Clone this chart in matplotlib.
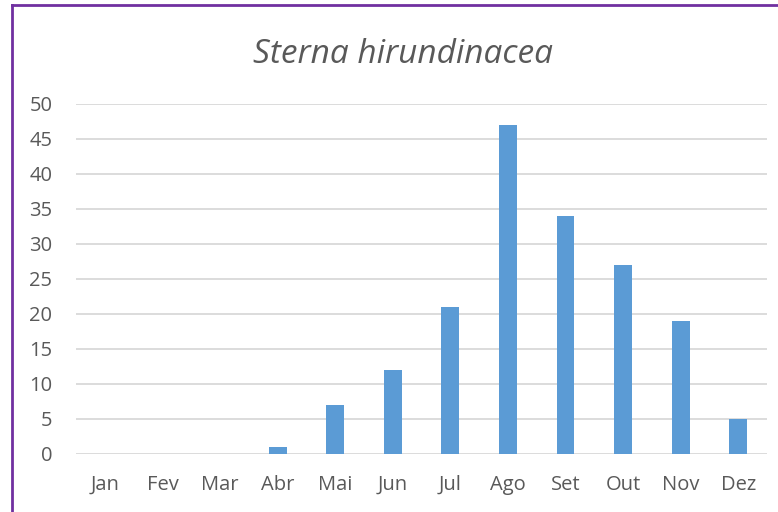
import matplotlib.pyplot as plt
from matplotlib.lines import Line2D

months = ['Jan', 'Fev', 'Mar', 'Abr', 'Mai', 'Jun', 'Jul', 'Ago', 'Set', 'Out', 'Nov', 'Dez']
counts = [0, 0, 0, 1, 7, 12, 21, 47, 34, 27, 19, 5]
y_ticks = [0, 5, 10, 15, 20, 25, 30, 35, 40, 45, 50]

plt.rcParams['font.family'] = ['Open Sans', 'DejaVu Sans']

fig = plt.figure(figsize=(7.78, 5.12), dpi=100)
ax = fig.add_axes([0.0977, 0.1133, 0.8883, 0.6837])

ax.bar(range(len(months)), counts, width=0.31, color='#5B9BD5', zorder=3)

ax.set_xlim(-0.5, len(months) - 0.5)
ax.set_ylim(0, 50)
ax.set_yticks(y_ticks)
ax.set_xticks(range(len(months)))
ax.set_xticklabels(months)
ax.grid(axis='y', color='#D9D9D9', linewidth=1.3, zorder=0)
ax.tick_params(axis='both', length=0, labelsize=14.5, colors='#595959')
ax.tick_params(axis='x', pad=15)
ax.tick_params(axis='y', pad=17)
for s in ax.spines.values():
    s.set_visible(False)

fig.text(0.518, 0.894, 'Sterna hirundinacea', fontsize=24, style='italic',
         color='#595959', ha='center', va='center')

# purple chart border
border = '#7030A0'
fig.add_artist(Line2D([0.0154, 0.0154], [0, 0.990], color=border, lw=2, transform=fig.transFigure))
fig.add_artist(Line2D([0.0154, 1], [0.990, 0.990], color=border, lw=2, transform=fig.transFigure))

fig.savefig('out.png', dpi=100)
